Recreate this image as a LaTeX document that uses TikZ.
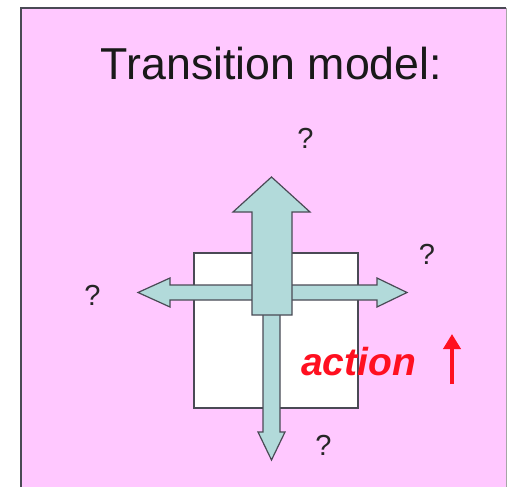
\documentclass[tikz,border=0pt]{standalone}
\usepackage{fontspec}
\setmainfont{Liberation Sans}
\usetikzlibrary{arrows.meta}
\definecolor{pinkbg}{HTML}{FFC8FF}
\definecolor{arrowfill}{HTML}{B2DADA}
\definecolor{outline}{HTML}{4A4A55}
\definecolor{actred}{HTML}{FF1020}
\tikzset{
  bigarrow/.style={fill=arrowfill, draw=outline, line width=1.2pt, line join=miter},
  qmark/.style={font=\fontsize{29}{32}\selectfont, text=black!85, inner sep=0pt}
}
\begin{document}
\begin{tikzpicture}[x=1pt,y=-1pt]
\useasboundingbox (0,0) rectangle (509,487);
% frame
\fill[pinkbg] (21,8) rectangle (506,490);
\draw[outline, line width=1.5pt] (21,490) -- (21,8) -- (506,8);
\draw[black!35, line width=1pt] (506,8) -- (506,490);
% title
\node[anchor=base, inner sep=0pt, font=\fontsize{44.7}{50}\selectfont, text=black!90] (title) at (271.5,80) {Transition model:};
% state square
\draw[fill=white, draw=outline, line width=1.2pt] (194,253) rectangle (358,408);
% horizontal double arrow
\draw[bigarrow] (138,292.5) -- (170,278) -- (170,285) -- (377,285) -- (377,278) -- (407,292.5) -- (377,307) -- (377,300) -- (170,300) -- (170,307) -- cycle;
% down arrow
\draw[bigarrow] (263,310) -- (280,310) -- (280,432) -- (285,432) -- (271.5,460) -- (258,432) -- (263,432) -- cycle;
% up arrow
\draw[bigarrow] (271.5,177) -- (310,212) -- (292,212) -- (292,315) -- (252,315) -- (252,212) -- (233,212) -- cycle;
% question marks
\node[qmark] (qtop) at (305.5,138) {?};
\node[qmark] (qright) at (427,254) {?};
\node[qmark] (qleft) at (92.5,295) {?};
\node[qmark] (qbottom) at (323.5,445) {?};
% action label
\node[anchor=base west, inner sep=0pt, text=actred, font=\fontsize{39}{42}\selectfont\bfseries\itshape] (action) at (301,375) {action};
\coordinate (redtail) at (452,384);
\coordinate (redtip) at (452,334);
\draw[actred, line width=4pt, -{Triangle[length=15pt,width=17pt]}] (redtail) -- (redtip);
\end{tikzpicture}
\end{document}
